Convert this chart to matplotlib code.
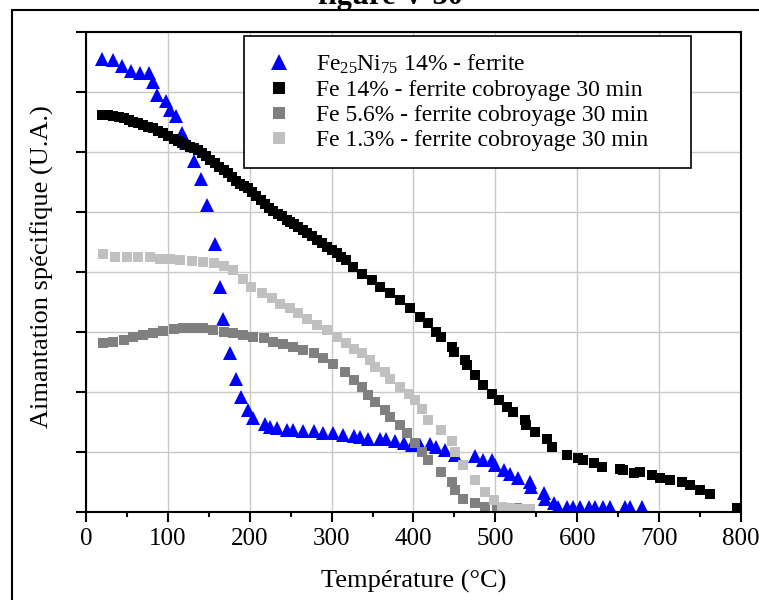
import matplotlib
matplotlib.use("Agg")
import matplotlib.pyplot as plt
from matplotlib.patches import Rectangle

plt.rcParams['font.family'] = ['Liberation Serif', 'DejaVu Serif']
plt.rcParams['mathtext.fontset'] = 'custom'
plt.rcParams['mathtext.rm'] = 'Liberation Serif'
plt.rcParams['mathtext.it'] = 'Liberation Serif'

# --- data (T in °C, magnetisation in arbitrary units) ---
t_feni = [20, 33, 44, 55, 66, 77, 82, 87, 98, 103, 110, 117, 122, 132, 140, 148, 157,
          164, 167, 176, 183, 189, 198, 204, 219, 225, 233, 245, 253, 265, 278, 290,
          302, 314, 327, 335, 345, 359, 367, 377, 388, 398, 408, 420, 428, 438, 451,
          475, 485, 496, 500, 510, 518, 528, 542, 544, 559, 561, 571, 577, 587, 595,
          603, 614, 622, 632, 640, 658, 664, 679]
m_feni = [7.54, 7.53, 7.43, 7.34, 7.31, 7.31, 7.17, 6.94, 6.85, 6.70, 6.60, 6.31, 6.14,
          5.85, 5.54, 5.12, 4.47, 3.75, 3.22, 2.64, 2.22, 1.91, 1.70, 1.57, 1.46, 1.42,
          1.39, 1.37, 1.36, 1.35, 1.34, 1.32, 1.31, 1.28, 1.27, 1.25, 1.22, 1.22, 1.21,
          1.18, 1.15, 1.11, 1.11, 1.13, 1.08, 1.03, 0.95, 0.93, 0.86, 0.87, 0.78, 0.69,
          0.63, 0.56, 0.50, 0.42, 0.31, 0.22, 0.14, 0.08, 0.08, 0.08, 0.08, 0.08, 0.08,
          0.08, 0.08, 0.08, 0.08, 0.08]

t_fe14 = [20, 27, 33, 40, 46, 52, 58, 64, 70, 76, 82, 88, 94, 100, 107, 112, 117, 122,
          127, 132, 137, 142, 147, 152, 157, 163, 168, 173, 178, 183, 188, 193, 198,
          203, 208, 214, 219, 224, 229, 234, 239, 245, 249, 254, 259, 265, 270, 276,
          282, 288, 294, 300, 306, 312, 318, 326, 337, 349, 359, 371, 383, 396, 408,
          418, 428, 434, 447, 449, 463, 465, 475, 485, 496, 504, 514, 522, 536, 538,
          548, 563, 569, 587, 601, 607, 620, 630, 652, 656, 669, 677, 691, 701, 713,
          728, 738, 750, 762, 795]
m_fe14 = [6.61, 6.61, 6.60, 6.58, 6.56, 6.53, 6.50, 6.48, 6.45, 6.42, 6.39, 6.35, 6.31,
          6.27, 6.22, 6.18, 6.14, 6.11, 6.08, 6.06, 6.03, 5.98, 5.93, 5.87, 5.81, 5.75,
          5.70, 5.64, 5.58, 5.52, 5.47, 5.43, 5.39, 5.33, 5.27, 5.20, 5.13, 5.07, 5.02,
          4.97, 4.93, 4.87, 4.83, 4.79, 4.75, 4.70, 4.65, 4.59, 4.53, 4.48, 4.42, 4.37,
          4.31, 4.25, 4.19, 4.08, 3.97, 3.86, 3.75, 3.64, 3.53, 3.39, 3.25, 3.14, 3.00,
          2.92, 2.75, 2.67, 2.53, 2.45, 2.28, 2.11, 1.97, 1.86, 1.75, 1.67, 1.53, 1.45,
          1.33, 1.22, 1.08, 0.95, 0.89, 0.86, 0.81, 0.75, 0.72, 0.70, 0.64, 0.67, 0.61,
          0.56, 0.53, 0.50, 0.45, 0.37, 0.29, 0.06]

t_fe56 = [21, 33, 46, 58, 70, 82, 94, 107, 119, 131, 143, 155, 168, 180, 192, 204, 217,
          229, 241, 253, 265, 278, 290, 302, 316, 327, 337, 345, 353, 365, 371, 384,
          392, 402, 410, 418, 434, 447, 451, 461, 475, 487, 502, 514, 526, 540]
m_fe56 = [2.81, 2.83, 2.87, 2.91, 2.95, 2.98, 3.02, 3.04, 3.06, 3.07, 3.07, 3.03, 3.00,
          2.98, 2.95, 2.92, 2.89, 2.83, 2.80, 2.75, 2.70, 2.64, 2.56, 2.47, 2.33, 2.20,
          2.08, 1.95, 1.83, 1.70, 1.58, 1.45, 1.31, 1.14, 1.00, 0.86, 0.67, 0.50, 0.36,
          0.22, 0.14, 0.08, 0.06, 0.06, 0.06, 0.05]

t_fe13 = [21, 35, 50, 64, 78, 90, 103, 115, 129, 143, 156, 168, 180, 192, 202, 215, 227,
          237, 249, 259, 270, 282, 294, 306, 317, 327, 337, 347, 353, 365, 371, 384,
          394, 402, 410, 418, 434, 447, 451, 461, 475, 487, 498, 508, 518, 530, 542]
m_fe13 = [4.30, 4.25, 4.24, 4.25, 4.24, 4.22, 4.21, 4.20, 4.18, 4.17, 4.15, 4.10, 4.03,
          3.88, 3.75, 3.64, 3.56, 3.47, 3.39, 3.31, 3.22, 3.11, 3.03, 2.92, 2.82, 2.72,
          2.64, 2.53, 2.42, 2.33, 2.22, 2.08, 1.97, 1.86, 1.71, 1.53, 1.36, 1.18, 1.00,
          0.78, 0.53, 0.33, 0.20, 0.08, 0.06, 0.04, 0.04]

fig = plt.figure(figsize=(7.59, 6.0), dpi=100)
ax = fig.add_axes([86 / 759, 1 - 511.7 / 600, 655 / 759, 480 / 600])

ax.plot(t_feni, m_feni, ls='none', marker='^', ms=9.5, color='#0000ff', mew=0,
        label='Fe$_{25}$Ni$_{75}$ 14% - ferrite')
ax.plot(t_fe14, m_fe14, ls='none', marker='s', ms=7.5, color='black', mew=0,
        label='Fe 14% - ferrite cobroyage 30 min')
ax.plot(t_fe56, m_fe56, ls='none', marker='s', ms=7.5, color='#808080', mew=0,
        label='Fe 5.6% - ferrite cobroyage 30 min')
ax.plot(t_fe13, m_fe13, ls='none', marker='s', ms=7.5, color='#c0c0c0', mew=0,
        label='Fe 1.3% - ferrite cobroyage 30 min')

ax.set_xlim(0, 800)
ax.set_ylim(0, 8)
ax.set_xticks(range(0, 801, 100))
ax.set_xticks(range(50, 800, 100), minor=True)
ax.set_yticks(range(0, 9))
ax.set_yticklabels([])
ax.grid(True, color='#c8c8c8', lw=1.0)
ax.set_axisbelow(True)
ax.tick_params(axis='both', which='major', direction='out', length=7, width=1.5,
               labelsize=18, pad=5)
ax.tick_params(axis='x', which='minor', direction='out', length=3.5, width=1.5)
for s in ax.spines.values():
    s.set_linewidth(1.5)

ax.set_xlabel('Température (°C)', fontsize=19, labelpad=14)
fig.text(42 / 759, 1 - 267 / 600, 'Aimantation spécifique (U.A.)', rotation=90,
         ha='center', va='center', fontsize=19)

leg = ax.legend(loc='upper left', bbox_to_anchor=(0.241, 0.698, 0.683, 0.293),
                mode='expand', fontsize=17, frameon=True, fancybox=False,
                edgecolor='black', framealpha=1, borderpad=0.7, handlelength=1.6,
                handletextpad=0.75, labelspacing=0.15, borderaxespad=0,
                markerscale=1.2)
leg.get_frame().set_linewidth(1.2)

# outer frame of the original figure page and its cut-off caption
fig.patches.append(Rectangle((12 / 759, -0.5), 2, 0.5 + 1 - 10 / 600, fill=False,
                             lw=1.5, ec='black', transform=fig.transFigure))
fig.text(0.515, 0.993, 'figure V-30', ha='center', va='baseline', fontsize=22,
         fontweight='bold')

fig.savefig('out.png', dpi=100)
